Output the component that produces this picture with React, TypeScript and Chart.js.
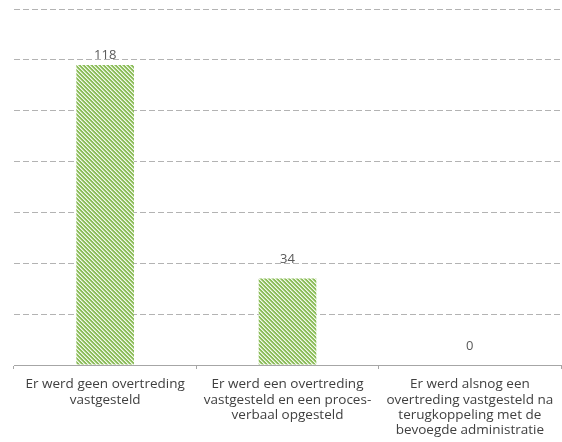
import React, { useEffect, useRef } from "react";
import { Chart, registerables } from "chart.js";

Chart.register(...registerables);

const categories: string[][] = [
  ["Er werd geen overtreding", "vastgesteld"],
  ["Er werd een overtreding", "vastgesteld en een proces-", "verbaal opgesteld"],
  ["Er werd alsnog een", "overtreding vastgesteld na", "terugkoppeling met de", "bevoegde administratie"],
];
const values: number[] = [118, 34, 0];
const yMax = 140;
const yStep = 20;

function makePattern(): CanvasPattern | string {
  const c = document.createElement("canvas");
  c.width = 4;
  c.height = 4;
  const g = c.getContext("2d");
  if (!g) return "#8dbf5c";
  g.fillStyle = "#8cbd5a";
  g.fillRect(0, 0, 4, 4);
  for (let i = 0; i < 4; i++) {
    g.fillStyle = "#f2f8ec";
    g.fillRect(i, i, 1, 1);
    g.fillStyle = "#c3dea6";
    g.fillRect((i + 1) % 4, i, 1, 1);
  }
  const p = g.createPattern(c, "repeat");
  return p || "#8dbf5c";
}

const labelPlugin = {
  id: "valueLabels",
  afterDatasetsDraw(chart: any) {
    const ctx = chart.ctx;
    const meta = chart.getDatasetMeta(0);
    ctx.save();
    ctx.font = "13px 'Open Sans'";
    ctx.fillStyle = "#595959";
    ctx.textAlign = "center";
    ctx.textBaseline = "middle";
    meta.data.forEach((bar: any, i: number) => {
      const y = Math.max(bar.y - 19, chart.chartArea.top + 46);
      ctx.fillText(String(values[i]), bar.x, y);
    });
    ctx.restore();
  },
};

export default function App() {
  const ref = useRef<HTMLCanvasElement | null>(null);
  useEffect(() => {
    if (!ref.current) return;
    const chart = new Chart(ref.current, {
      type: "bar",
      data: {
        labels: categories,
        datasets: [
          {
            data: values,
            backgroundColor: makePattern() as any,
            borderWidth: 0,
            barPercentage: 0.316,
            categoryPercentage: 1,
          },
        ],
      },
      options: {
        animation: false,
        responsive: false,
        layout: { padding: { left: 14, right: 1, top: 9, bottom: 0 } },
        plugins: { legend: { display: false }, tooltip: { enabled: false } },
        scales: {
          x: {
            offset: true,
            afterFit: (scale: any) => {
              scale.height = 77;
            },
            grid: {
              offset: true,
              drawOnChartArea: false,
              drawTicks: true,
              tickLength: 4,
              color: "#a6a6a6",
            },
            border: { display: true, color: "#a6a6a6", width: 1 },
            ticks: {
              color: "#404040",
              font: { family: "'Open Sans'", size: 13.5, lineHeight: 1.12 },
              maxRotation: 0,
              autoSkip: false,
              padding: 8,
            },
          },
          y: {
            min: 0,
            max: yMax,
            ticks: { stepSize: yStep, display: false },
            border: { display: false, dash: [6, 3] },
            grid: {
              color: (c: any) => (c.tick && c.tick.value === 0 ? "rgba(0,0,0,0)" : "#b3b3b3"),
              drawTicks: false,
              lineWidth: 1,
            },
          },
        },
      },
      plugins: [labelPlugin],
    });
    return () => chart.destroy();
  }, []);
  return (
    <div style={{ position: "fixed", left: 0, top: 0, width: 562, height: 442, background: "#fff" }}>
      <canvas ref={ref} width={562} height={442} style={{ display: "block" }} />
    </div>
  );
}
